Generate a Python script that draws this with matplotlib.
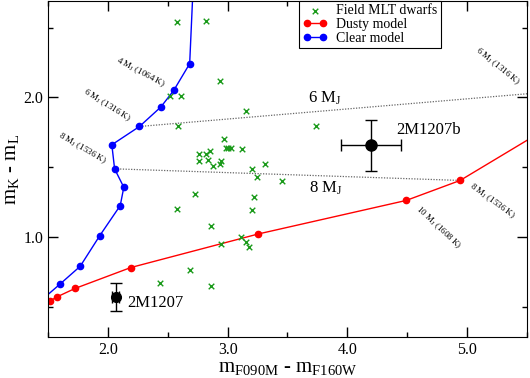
import matplotlib
matplotlib.use("Agg")
import matplotlib.pyplot as plt
from matplotlib.ticker import MultipleLocator, FormatStrFormatter

plt.rcParams['font.family'] = ['Liberation Serif', 'DejaVu Serif']
plt.rcParams['mathtext.fontset'] = 'custom'
plt.rcParams['mathtext.rm'] = 'Liberation Serif'
plt.rcParams['mathtext.it'] = 'Liberation Serif:italic'

# Field MLT dwarfs
field_x = [2.581, 2.823, 2.938, 2.519, 2.610, 3.154, 3.739, 2.586, 2.968, 2.983,
           3.006, 3.025, 3.117, 2.853, 2.764, 2.823, 2.764, 2.838, 2.948, 2.939,
           2.875, 3.314, 3.204, 3.242, 3.458, 2.725, 3.217, 2.575, 3.206, 2.858,
           3.111, 3.156, 3.175, 2.944, 2.689, 2.435, 2.858]
field_y = [2.537, 2.549, 2.120, 2.010, 2.009, 1.900, 1.792, 1.792, 1.701, 1.640,
           1.640, 1.640, 1.630, 1.620, 1.595, 1.593, 1.542, 1.552, 1.543, 1.525,
           1.511, 1.523, 1.489, 1.431, 1.402, 1.312, 1.291, 1.203, 1.196, 1.083,
           1.004, 0.964, 0.933, 0.954, 0.764, 0.674, 0.651]

# Dusty model
dusty_x = [1.517, 1.575, 1.725, 2.192, 3.256, 4.492, 4.942, 6.0]
dusty_y = [0.544, 0.573, 0.633, 0.783, 1.023, 1.263, 1.406, 1.95]

# Clear model
clear_x = [1.45, 1.597, 1.769, 1.933, 2.103, 2.133, 2.056, 2.033, 2.264, 2.442, 2.550, 2.683, 2.72]
clear_y = [0.553, 0.662, 0.792, 1.012, 1.226, 1.357, 1.489, 1.661, 1.792, 1.931, 2.050, 2.241, 2.95]

# iso-mass dotted lines
m6_x = [2.264, 6.0]
m6_y = [1.792, 2.062]
m8_x = [2.056, 4.942]
m8_y = [1.489, 1.406]

# objects
b_x, b_y, b_xerr, b_yerr = 4.197, 1.656, 0.25, 0.18
a_x, a_y, a_xerr, a_yerr = 2.064, 0.574, 0.03, 0.10

fig = plt.figure(figsize=(5.3, 3.78), dpi=100)
ax = fig.add_axes([0.0906, 0.1085, 0.9037, 0.889])

ax.plot(m6_x, m6_y, ls=(0, (1, 1.2)), color='#666666', lw=0.9, zorder=1)
ax.plot(m8_x, m8_y, ls=(0, (1, 1.2)), color='#666666', lw=0.9, zorder=1)

ax.scatter(field_x, field_y, marker='x', color='#1a9a1a', s=16, lw=1.0,
           label='Field MLT dwarfs', zorder=3)
ax.plot(dusty_x, dusty_y, '-o', color='red', lw=1.0, ms=4.5, label='Dusty model', zorder=2)
ax.plot(clear_x, clear_y, '-o', color='blue', lw=1.0, ms=4.5, label='Clear model', zorder=2)

ax.errorbar([b_x], [b_y], xerr=[b_xerr], yerr=[b_yerr], fmt='o', color='black',
            ms=8, lw=1.0, capsize=4, capthick=1.0, zorder=4)
ax.errorbar([a_x], [a_y], xerr=[a_xerr], yerr=[a_yerr], fmt='o', color='black',
            ms=7, lw=1.0, capsize=4, capthick=1.0, zorder=4)

ax.text(b_x + 0.21, b_y + 0.11, '2M1207b', fontsize=12, ha='left', va='center')
ax.text(a_x + 0.10, a_y - 0.045, '2M1207', fontsize=12, ha='left', va='center')
ax.text(3.81, 1.995, r'6 M$_{\mathrm{J}}$', fontsize=12, ha='center', va='center')
ax.text(3.82, 1.35, r'8 M$_{\mathrm{J}}$', fontsize=12, ha='center', va='center')

small = dict(fontsize=6.5, ha='center', va='center', rotation_mode='anchor')
ax.text(2.275, 2.177, r'4 M$_{\mathrm{J}}$ (1064 K)', rotation=-28, **small)
ax.text(1.992, 1.940, r'6 M$_{\mathrm{J}}$ (1316 K)', rotation=-32, **small)
ax.text(1.783, 1.633, r'8 M$_{\mathrm{J}}$ (1536 K)', rotation=-30, **small)
ax.text(5.208, 1.260, r'8 M$_{\mathrm{J}}$ (1536 K)', rotation=-36, **small)
ax.text(4.758, 1.067, r'10 M$_{\mathrm{J}}$ (1608 K)', rotation=-43, **small)
ax.text(5.258, 2.220, r'6 M$_{\mathrm{J}}$ (1316 K)', rotation=-39, **small)

ax.set_xlim(1.5, 5.5)
ax.set_ylim(0.286, 2.69)
ax.xaxis.set_major_locator(MultipleLocator(1.0))
ax.xaxis.set_minor_locator(MultipleLocator(0.5))
ax.yaxis.set_major_locator(MultipleLocator(1.0))
ax.yaxis.set_minor_locator(MultipleLocator(0.5))
ax.xaxis.set_major_formatter(FormatStrFormatter('%.1f'))
ax.yaxis.set_major_formatter(FormatStrFormatter('%.1f'))
ax.tick_params(which='both', direction='in', top=True, right=True, labelsize=11.5)
ax.tick_params(which='major', length=7, width=1)
ax.tick_params(which='minor', length=3.5, width=1)

ax.set_xlabel(r'm$_{\mathrm{F090M}}$ - m$_{\mathrm{F160W}}$', fontsize=15, labelpad=0)
ax.set_ylabel(r'm$_{\mathrm{K}}$ - m$_{\mathrm{L}}$', fontsize=15, labelpad=2)

leg = ax.legend(loc='upper left', bbox_to_anchor=(0.524, 1.0), borderaxespad=0,
                fontsize=10, fancybox=False, edgecolor='black', framealpha=1,
                handlelength=1.8, labelspacing=0.05, borderpad=0.25,
                handletextpad=0.6, scatterpoints=1, numpoints=2)
leg.get_frame().set_linewidth(0.8)

fig.savefig('out.png', dpi=100)
